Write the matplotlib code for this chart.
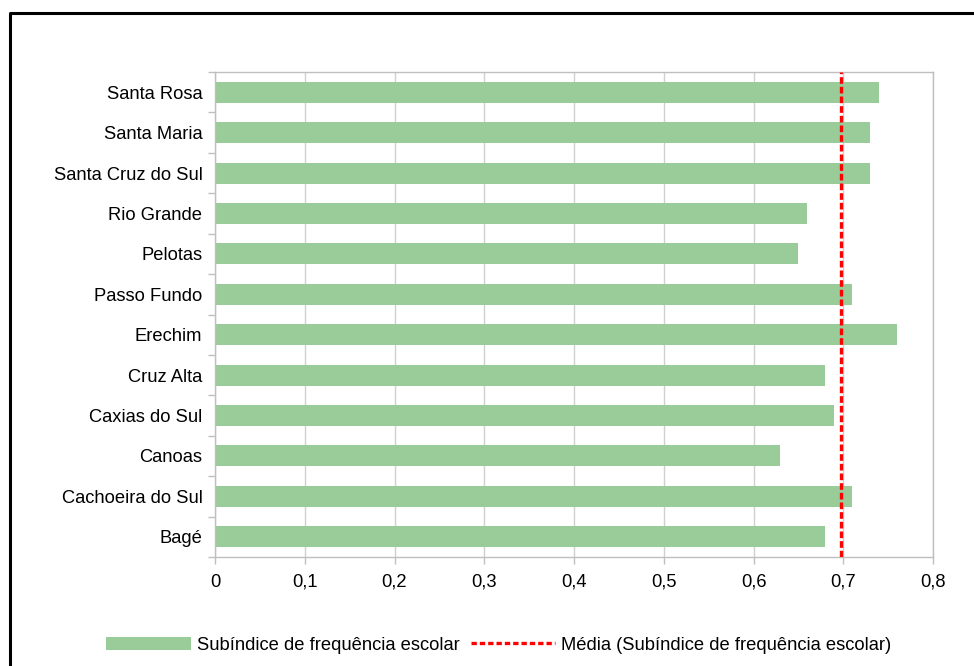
import matplotlib
matplotlib.use("Agg")
import matplotlib.pyplot as plt
from matplotlib.patches import Patch
from matplotlib.lines import Line2D
import numpy as np

plt.rcParams['font.family'] = ['Liberation Sans', 'DejaVu Sans']

cities = ["Bagé", "Cachoeira do Sul", "Canoas", "Caxias do Sul", "Cruz Alta", "Erechim",
          "Passo Fundo", "Pelotas", "Rio Grande", "Santa Cruz do Sul", "Santa Maria", "Santa Rosa"]
values = [0.68, 0.71, 0.63, 0.69, 0.68, 0.76, 0.71, 0.65, 0.66, 0.73, 0.73, 0.74]
mean_value = float(np.mean(values))
xticks = [0, 0.1, 0.2, 0.3, 0.4, 0.5, 0.6, 0.7, 0.8]
xticklabels = ["0", "0,1", "0,2", "0,3", "0,4", "0,5", "0,6", "0,7", "0,8"]
bar_label = "Subíndice de frequência escolar"
mean_label = "Média (Subíndice de frequência escolar)"

W, H = 974, 666
fig = plt.figure(figsize=(W / 100, H / 100), dpi=100)
ax = fig.add_axes([215 / W, 1 - 557 / H, (933 - 215) / W, (557 - 72) / H])

bar_color = "#9ACC99"
grid_color = "#BFBFBF"
fs = 13.2
y = np.arange(len(cities))
ax.barh(y, values, height=0.52, color=bar_color, zorder=2)
ax.axvline(mean_value, color="#FF0000", linestyle=(0, (2, 0.9)), linewidth=2.4, zorder=3)

ax.set_xlim(0, 0.8)
ax.set_ylim(-0.5, len(cities) - 0.5)
ax.set_xticks(xticks)
ax.set_xticklabels(xticklabels, fontsize=fs)
ax.set_yticks(y)
ax.set_yticklabels(cities, fontsize=fs)
ax.set_yticks(np.arange(-0.5, len(cities), 1), minor=True)
ax.tick_params(axis='y', which='major', length=0, pad=9)
ax.tick_params(axis='y', which='minor', length=5, color=grid_color, width=1)
ax.tick_params(axis='x', which='major', length=5, color=grid_color, width=1, pad=7)
ax.xaxis.grid(True, color="#D0D0D0", linewidth=1, zorder=0)
ax.set_axisbelow(True)
for s in ax.spines.values():
    s.set_color(grid_color)
    s.set_linewidth(1)

handles = [Patch(facecolor=bar_color, edgecolor='none'),
           Line2D([0], [0], color="#FF0000", linestyle=(0, (1.6, 0.9)), linewidth=2.4)]
fig.legend(handles, [bar_label, mean_label], loc='center', bbox_to_anchor=(499 / W, 1 - 645 / H),
           ncol=2, frameon=False, fontsize=fs, handlelength=4.6, handletextpad=0.35,
           columnspacing=0.6, handleheight=0.7)

# outer border (left and top)
fig.add_artist(Line2D([10 / W, 10 / W, 1.0], [0, 1 - 13 / H, 1 - 13 / H],
                      transform=fig.transFigure, color='black', linewidth=2.2))

fig.savefig("out.png", dpi=100)
